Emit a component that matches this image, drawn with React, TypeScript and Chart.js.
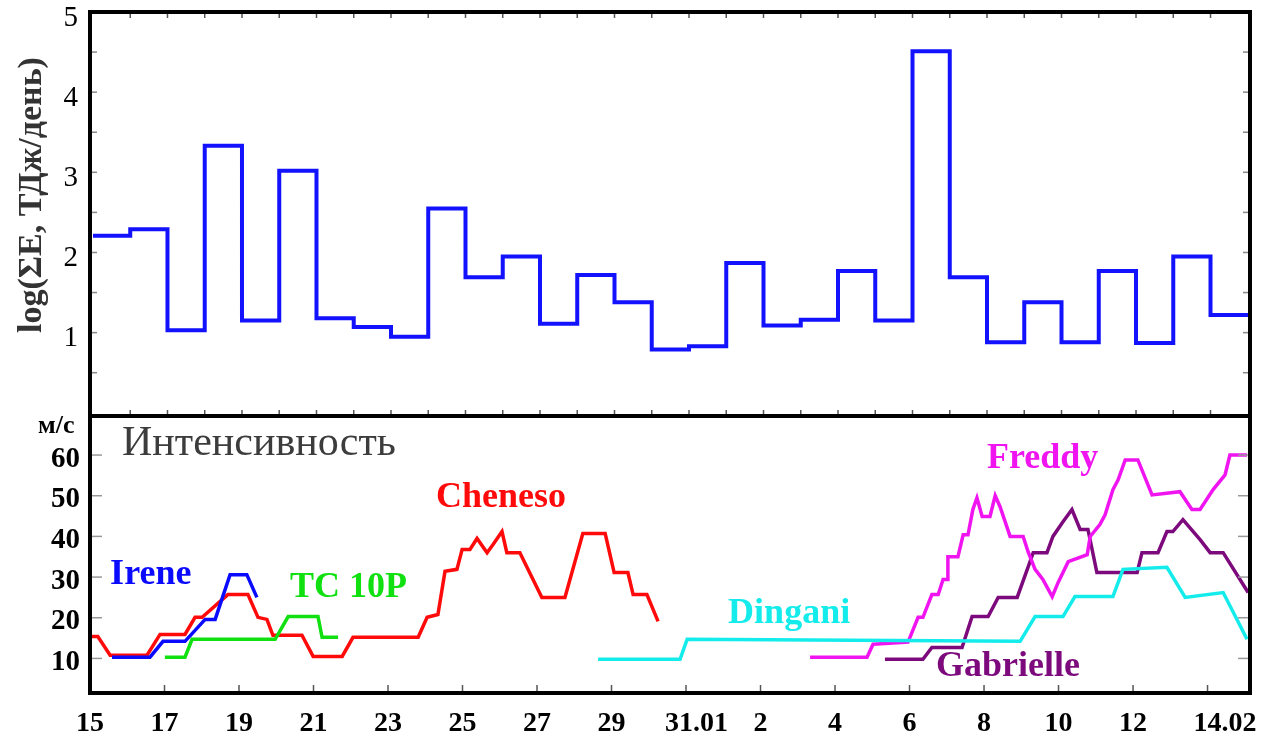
import React, { useEffect, useRef } from "react";
import { Chart, registerables } from "chart.js";

Chart.register(...registerables);

const SERIF = "'Liberation Serif', 'Times New Roman', serif";

// ---- X axis (day numbers: 15..31 = January, 32.. = February) ----
const tickDays = [15, 17, 19, 21, 23, 25, 27, 29, 31, 33, 35, 37, 39, 41, 43, 45];
const tickLabels = ["15", "17", "19", "21", "23", "25", "27", "29", "31.01", "2", "4", "6", "8", "10", "12", "14.02"];
const tickLabelPad = [0, 0, 0, 0, 0, 0, 0, 0, 3, 0, 0, 0, 0, 0, 0, 5];

// ---- Top panel: daily energy, log(ΣE, ТДж/день) ----
const energyDays = [15, 16, 17, 18, 19, 20, 21, 22, 23, 24, 25, 26, 27, 28, 29, 30, 31, 32, 33, 34, 35, 36, 37, 38, 39, 40, 41, 42, 43, 44, 45];
const energyLog = [2.21, 2.29, 1.03, 3.33, 1.15, 3.02, 1.18, 1.07, 0.95, 2.55, 1.69, 1.95, 1.11, 1.72, 1.38, 0.79, 0.83, 1.87, 1.09, 1.16, 1.77, 1.15, 4.51, 1.69, 0.88, 1.38, 0.88, 1.77, 0.87, 1.95, 1.22];
const energyTicks = [1, 2, 3, 4, 5];

// ---- Bottom panel: intensity, м/с ----
const intensityTicks = [10, 20, 30, 40, 50, 60];

const chenesoDays = [15.0, 15.21, 15.54, 16.53, 16.88, 17.55, 17.82, 18.01, 18.7, 19.24, 19.51, 19.75, 19.91, 20.69, 20.99, 21.77, 22.06, 23.81, 24.05, 24.34, 24.53, 24.85, 24.99, 25.2, 25.39, 25.66, 25.82, 26.06, 26.19, 26.54, 27.13, 27.75, 28.23, 28.83, 29.07, 29.44, 29.58, 29.95, 30.25];
const chenesoSpeed = [15.4, 15.4, 10.8, 10.8, 15.9, 15.9, 20.1, 20.1, 25.7, 25.7, 20.1, 19.6, 15.7, 15.7, 10.5, 10.5, 15.2, 15.2, 20.1, 20.8, 31.4, 31.9, 36.8, 36.8, 39.5, 36.0, 38.0, 41.2, 36.0, 36.0, 25.0, 25.0, 40.7, 40.7, 31.1, 31.1, 25.7, 25.7, 19.1];

const ireneDays = [15.59, 16.61, 16.96, 17.55, 18.09, 18.36, 18.76, 19.21, 19.48];
const ireneSpeed = [10.3, 10.3, 14.2, 14.2, 19.6, 19.6, 30.6, 30.6, 25.0];

const tc10pDays = [17.01, 17.55, 17.74, 19.97, 20.32, 21.12, 21.23, 21.66];
const tc10pSpeed = [10.3, 10.3, 14.7, 14.7, 20.3, 20.3, 15.2, 15.2];

const dinganiDays = [28.64, 30.84, 31.03, 39.97, 40.37, 41.12, 41.44, 42.46, 42.73, 43.91, 44.4, 45.42, 46.06];
const dinganiSpeed = [9.8, 9.8, 14.7, 14.2, 20.3, 20.3, 25.2, 25.2, 31.9, 32.4, 25.0, 26.2, 14.7];

const freddyDays = [34.33, 35.86, 36.02, 36.96, 37.23, 37.36, 37.6, 37.77, 37.9, 38.01, 38.03, 38.3, 38.44, 38.57, 38.7, 38.81, 38.95, 39.16, 39.3, 39.43, 39.7, 40.05, 40.18, 40.37, 40.58, 40.83, 40.99, 41.26, 41.77, 41.85, 42.11, 42.25, 42.46, 42.6, 42.79, 43.13, 43.51, 44.26, 44.58, 44.8, 45.15, 45.47, 45.6, 46.06];
const freddySpeed = [10.3, 10.3, 13.5, 14.0, 20.1, 20.1, 25.7, 25.7, 29.4, 29.4, 35.0, 35.0, 40.4, 40.4, 46.6, 49.5, 44.9, 44.9, 50.0, 47.3, 40.0, 40.0, 36.3, 31.9, 29.4, 25.2, 28.7, 33.8, 35.5, 40.0, 42.9, 45.3, 51.5, 53.9, 58.8, 58.8, 50.2, 51.0, 46.6, 46.6, 51.5, 55.1, 60.0, 60.0];

const gabrielleDays = [36.34, 37.36, 37.6, 38.41, 38.68, 39.11, 39.38, 39.89, 40.18, 40.32, 40.69, 40.85, 41.12, 41.36, 41.58, 41.79, 42.03, 43.11, 43.24, 43.67, 43.91, 44.07, 44.34, 44.8, 45.07, 45.42, 46.09];
const gabrielleSpeed = [9.8, 9.8, 12.7, 12.7, 20.3, 20.3, 25.0, 25.0, 32.4, 36.0, 36.0, 40.0, 43.6, 46.6, 41.7, 41.7, 31.1, 31.1, 36.0, 36.0, 41.2, 41.2, 44.1, 39.2, 36.0, 36.0, 26.2];

const storms = [
  { name: "Irene", days: ireneDays, speed: ireneSpeed, color: "#0a0aff", labelDay: 15.54, labelV: 28.2 },
  { name: "TC 10P", days: tc10pDays, speed: tc10pSpeed, color: "#10e010", labelDay: 20.37, labelV: 25.0 },
  { name: "Cheneso", days: chenesoDays, speed: chenesoSpeed, color: "#ff0a0a", labelDay: 24.29, labelV: 47.3 },
  { name: "Dingani", days: dinganiDays, speed: dinganiSpeed, color: "#14ecec", labelDay: 32.13, labelV: 18.6 },
  { name: "Freddy", days: freddyDays, speed: freddySpeed, color: "#f014f0", labelDay: 39.08, labelV: 56.9 },
  { name: "Gabrielle", days: gabrielleDays, speed: gabrielleSpeed, color: "#7d0a7d", labelDay: 37.71, labelV: 5.6 },
];

const X_MIN = 15;
const X_MAX = 46.14;
const TOP_SHIFT = 0.08;

function line(ctx: CanvasRenderingContext2D, x1: number, y1: number, x2: number, y2: number) {
  ctx.beginPath();
  ctx.moveTo(x1, y1);
  ctx.lineTo(x2, y2);
  ctx.stroke();
}

const noPad = (s: any) => {
  s.paddingTop = 0;
  s.paddingBottom = 0;
  s.paddingLeft = 0;
  s.paddingRight = 0;
};

const topDecor = {
  id: "topDecor",
  afterDraw(chart: any) {
    const { ctx, chartArea, scales } = chart;
    const { left, right, top, bottom } = chartArea;
    const x = scales.x;
    const y = scales.y;
    ctx.save();
    ctx.strokeStyle = "#555";
    ctx.lineWidth = 1.5;
    for (let d = 15; d <= 46; d++) {
      const px = x.getPixelForValue(d);
      if (px < left + 4 || px > right - 4) continue;
      line(ctx, px, top, px, top + 6);
      line(ctx, px, bottom, px, bottom - 6);
    }
    ctx.strokeStyle = "#888";
    for (let v = 0.5; v < 5; v += 0.5) {
      const py = y.getPixelForValue(v);
      line(ctx, left, py, left + 7, py);
      line(ctx, right, py, right - 7, py);
    }
    ctx.strokeStyle = "#000";
    ctx.lineWidth = 4;
    ctx.strokeRect(left, top, right - left, bottom - top);
    ctx.translate(32, 195);
    ctx.rotate(-Math.PI / 2);
    ctx.font = `bold 34px ${SERIF}`;
    ctx.fillStyle = "#333";
    ctx.textAlign = "center";
    ctx.textBaseline = "middle";
    ctx.fillText("log(ΣE, ТДж/день)", 0, 0);
    ctx.restore();
  },
};

const bottomDecor = {
  id: "bottomDecor",
  afterDraw(chart: any) {
    const { ctx, chartArea, scales } = chart;
    const { left, right, top, bottom } = chartArea;
    const x = scales.x;
    const y = scales.y;
    ctx.save();
    ctx.strokeStyle = "#555";
    ctx.lineWidth = 1.5;
    for (const d of tickDays) {
      const px = x.getPixelForValue(d);
      if (px < left + 4 || px > right - 4) continue;
      line(ctx, px, bottom, px, bottom - 8);
    }
    ctx.strokeStyle = "#999";
    for (const v of intensityTicks) {
      const py = y.getPixelForValue(v);
      line(ctx, left, py, left + 12, py);
      line(ctx, right, py, right - 12, py);
    }
    ctx.strokeStyle = "#000";
    ctx.lineWidth = 4;
    ctx.strokeRect(left, top, right - left, bottom - top);

    ctx.textAlign = "left";
    ctx.textBaseline = "alphabetic";
    ctx.fillStyle = "#000";
    ctx.font = `bold 26px ${SERIF}`;
    ctx.fillText("м/с", 38, top + 17);
    ctx.fillStyle = "#3c3c3c";
    ctx.font = `42px ${SERIF}`;
    ctx.fillText("Интенсивность", left + 32, top + 39);

    ctx.font = `bold 36px ${SERIF}`;
    for (const s of storms) {
      ctx.fillStyle = s.color;
      ctx.fillText(s.name, x.getPixelForValue(s.labelDay), y.getPixelForValue(s.labelV));
    }
    ctx.restore();
  },
};

export default function App() {
  const topRef = useRef<HTMLCanvasElement>(null);
  const botRef = useRef<HTMLCanvasElement>(null);

  useEffect(() => {
    const topData = energyDays.map((d, i) => ({ x: d, y: energyLog[i] }));
    topData.push({ x: X_MAX, y: energyLog[energyLog.length - 1] });

    const topChart = new Chart(topRef.current!, {
      type: "line",
      data: {
        datasets: [
          {
            data: topData,
            borderColor: "#1212ff",
            borderWidth: 4,
            pointRadius: 0,
            stepped: "before",
            fill: false,
          },
        ],
      },
      options: {
        responsive: false,
        animation: false,
        events: [],
        layout: { padding: { left: 0, right: 15, top: 12, bottom: 4 } },
        plugins: { legend: { display: false }, tooltip: { enabled: false } },
        scales: {
          x: {
            type: "linear",
            display: false,
            min: X_MIN - TOP_SHIFT,
            max: X_MAX - TOP_SHIFT,
          },
          y: {
            type: "linear",
            min: -0.04,
            max: 5,
            afterFit: (s: any) => {
              s.width = 90;
              noPad(s);
            },
            afterBuildTicks: (s: any) => {
              s.ticks = energyTicks.map((v) => ({ value: v }));
            },
            grid: { display: false, drawTicks: false },
            border: { display: false },
            ticks: {
              padding: 12,
              labelOffset: 6,
              color: "#000",
              font: { family: SERIF, size: 29 },
              callback: (v: any) => String(v),
            },
          },
        },
      },
      plugins: [topDecor],
    } as any);

    const botChart = new Chart(botRef.current!, {
      type: "line",
      data: {
        datasets: storms.map((s) => ({
          label: s.name,
          data: s.days.map((d, i) => ({ x: d, y: s.speed[i] })),
          borderColor: s.color,
          borderWidth: 3.5,
          pointRadius: 0,
          fill: false,
        })),
      },
      options: {
        responsive: false,
        animation: false,
        events: [],
        layout: { padding: { left: 0, right: 15, top: 16, bottom: 0 } },
        plugins: { legend: { display: false }, tooltip: { enabled: false } },
        scales: {
          x: {
            type: "linear",
            min: X_MIN,
            max: X_MAX,
            afterFit: (s: any) => {
              s.height = 45;
              noPad(s);
            },
            afterBuildTicks: (s: any) => {
              s.ticks = tickDays.map((v) => ({ value: v }));
            },
            grid: { display: false, drawTicks: false },
            border: { display: false },
            ticks: {
              padding: 14,
              maxRotation: 0,
              autoSkip: false,
              color: "#000",
              font: { family: SERIF, size: 28, weight: "bold" },
              callback: (v: any, i: number) => " ".repeat(tickLabelPad[i] || 0) + tickLabels[i],
            },
          },
          y: {
            type: "linear",
            min: 1.5,
            max: 69.6,
            afterFit: (s: any) => {
              s.width = 90;
              noPad(s);
            },
            afterBuildTicks: (s: any) => {
              s.ticks = intensityTicks.map((v) => ({ value: v }));
            },
            grid: { display: false, drawTicks: false },
            border: { display: false },
            ticks: {
              padding: 10,
              labelOffset: 4,
              color: "#000",
              font: { family: SERIF, size: 29, weight: "bold" },
              callback: (v: any) => String(v),
            },
          },
        },
      },
      plugins: [bottomDecor],
    } as any);

    return () => {
      topChart.destroy();
      botChart.destroy();
    };
  }, []);

  return (
    <div style={{ position: "absolute", left: 0, top: 0, width: 1265, height: 738, background: "#fff" }}>
      <canvas ref={topRef} width={1265} height={420} style={{ position: "absolute", left: 0, top: 0, width: 1265, height: 420 }} />
      <canvas ref={botRef} width={1265} height={338} style={{ position: "absolute", left: 0, top: 400, width: 1265, height: 338 }} />
    </div>
  );
}
